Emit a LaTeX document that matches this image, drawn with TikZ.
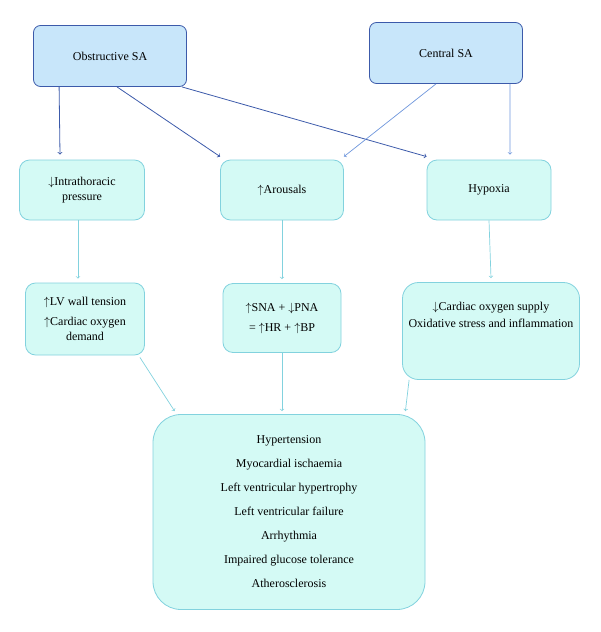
\documentclass[tikz,border=0pt]{standalone}
\usepackage{fontspec}
\setmainfont{Liberation Serif}
\usetikzlibrary{positioning}
\definecolor{topfill}{RGB}{200,230,250}
\definecolor{topline}{RGB}{60,90,170}
\definecolor{boxfill}{RGB}{212,250,245}
\definecolor{boxline}{RGB}{130,210,222}
\definecolor{centline}{RGB}{110,150,220}
\tikzset{
  topbox/.style={draw=topline,fill=topfill,line width=0.8pt,rounded corners=7pt,minimum width=153pt,minimum height=61pt,align=center,font=\fontsize{12}{15}\selectfont},
  box/.style={draw=boxline,fill=boxfill,line width=0.8pt,rounded corners=10pt,align=center,font=\fontsize{12}{15}\selectfont},
  arr/.style={->,draw=boxline,line width=0.7pt},
}
\begin{document}
\begin{tikzpicture}[x=1pt,y=-1pt]
	\useasboundingbox (0,0) rectangle (600,632);
	
	\node[topbox] (obs) at (110,56) {Obstructive SA};
	\node[topbox] (cent) at (446,53) {Central SA};
	
	\node[box,minimum width=125pt,minimum height=60pt] (thor) at (82,190) {$\downarrow$Intrathoracic\\pressure};
	\node[box,minimum width=123pt,minimum height=60pt] (arou) at (282,190) {$\uparrow$Arousals};
	\node[box,minimum width=124pt,minimum height=60pt] (hypo) at (489,190) {Hypoxia};
	
	\node[box,minimum width=119pt,minimum height=72pt] (lv) at (85,319) {$\uparrow$LV wall tension\\[5pt]$\uparrow$Cardiac oxygen\\demand};
	\node[box,minimum width=118pt,minimum height=69pt] (sna) at (282,318) {$\uparrow$SNA + $\downarrow$PNA\\[5pt]= $\uparrow$HR + $\uparrow$BP};
	\node[box,minimum width=177pt,minimum height=97pt,rounded corners=16pt] (supp) at (491,331) {$\downarrow$Cardiac oxygen supply\\[2pt]Oxidative stress and inflammation\\[18pt]};
	
	\node[box,minimum width=272pt,minimum height=195pt,rounded corners=28pt,font=\fontsize{12}{24}\selectfont] (out) at (289,512) {Hypertension\\Myocardial ischaemia\\Left ventricular hypertrophy\\Left ventricular failure\\Arrhythmia\\Impaired glucose tolerance\\Atherosclerosis};
	
	% from the two apnoea types
	\draw[->,topline,line width=0.8pt] ([xshift=26pt]obs.south west) -- ([xshift=-22pt,yshift=5pt]thor.north);
	\draw[->,topline,line width=0.8pt] ([xshift=7pt]obs.south) -- ([yshift=3pt]arou.north west);
	\draw[->,topline,line width=0.8pt] ([xshift=-5pt]obs.south east) -- ([yshift=3pt]hypo.north west);
	\draw[->,centline,line width=0.7pt] ([xshift=-10pt]cent.south) -- ([yshift=3pt]arou.north east);
	\draw[->,centline,line width=0.7pt] ([xshift=-13pt]cent.south east) -- ([xshift=21pt,yshift=5pt]hypo.north);
	
	\draw[arr] ([xshift=-4pt]thor.south) -- ([xshift=-7pt,yshift=4pt]lv.north);
	\draw[arr] (arou.south) -- ([yshift=4pt]sna.north);
	\draw[arr] (hypo.south) -- ([yshift=4pt]supp.north);
	
	\draw[arr] ([xshift=-5pt,yshift=-2pt]lv.south east) -- ([xshift=22pt,yshift=3pt]out.north west);
	\draw[arr] (sna.south) -- ([xshift=-7pt,yshift=3pt]out.north);
	\draw[arr] ([xshift=7pt]supp.south west) -- ([xshift=-20pt,yshift=3pt]out.north east);
\end{tikzpicture}
\end{document}
